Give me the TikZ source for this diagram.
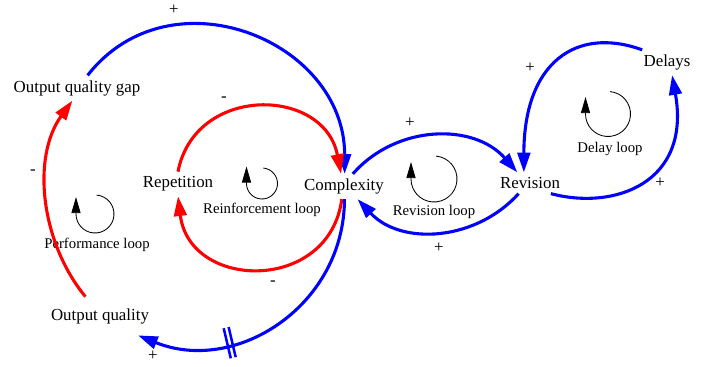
\documentclass[tikz,border=0pt]{standalone}
\usepackage{fontspec}
\setmainfont{Liberation Serif}
\usetikzlibrary{arrows.meta,decorations.markings}

% loop symbol: centre, radius
\newcommand{\loopmark}[2]{%
  \draw[loopline] (#1) ++(85:#2) arc[start angle=85, end angle=-180, radius=#2] -- ++(0,17);}

\begin{document}
\begin{tikzpicture}[x=0.025cm, y=0.025cm,
    var/.style={font=\fontsize{12}{14}\selectfont},
    loopname/.style={font=\fontsize{10.5}{12}\selectfont},
    sign/.style={font=\fontsize{12}{14}\selectfont, inner sep=1pt},
    link/.style={line width=2.2pt, -{Triangle[length=14pt,width=9pt]}},
    poslink/.style={link, draw=blue},
    neglink/.style={link, draw=red},
    loopline/.style={line width=0.6pt, -{Triangle[length=11.5pt,width=6.5pt]}},
    delaymark/.style={postaction={decorate}, decoration={markings, mark=at position #1 with
      {\draw[-, blue, line width=1.8pt] (-1.8pt,-11pt) -- (-1.8pt,11pt) (1.8pt,-11pt) -- (1.8pt,11pt);}}}]
  \useasboundingbox (0,0) rectangle (709,367);

  % variables
  \node[var] (gap) at (77,279) {Output quality gap};
  \node[var] (rep) at (178,183) {Repetition};
  \node[var] (cx)  at (344,180.5) {Complexity};
  \node[var] (rev) at (530,184) {Revision};
  \node[var] (del) at (667,304.5) {Delays};
  \node[var, outer sep=5pt] (oq) at (100,51) {Output quality};

  % loops
  \node[loopname] (perf)  at (97,122) {Performance loop};
  \node[loopname] (reinf) at (262,157.5) {Reinforcement loop};
  \node[loopname] (revl)  at (434,155.5) {Revision loop};
  \node[loopname] (dell)  at (610,218) {Delay loop};
  \loopmark{95,153}{19}
  \loopmark{262,183.5}{15.5}
  \loopmark{434,188}{23}
  \loopmark{608,253}{22.5}

  % links
  \draw[poslink] (gap.50) .. controls +(52:134) and +(90:134) .. (cx.87);
  \draw[neglink] (rep.north) .. controls +(79:89) and +(101:89) .. (cx.103);
  \draw[neglink] (cx.-100) .. controls +(-97.5:95) and +(-83:95) .. (rep.south);
  \draw[poslink, delaymark=0.68] (cx.-88) .. controls +(-90:106) and +(-22:106) .. (oq.-27);
  \draw[neglink] (oq.127) .. controls +(129.5:70) and +(-126:70) .. (gap.-110);
  \draw[poslink] (cx.55) .. controls +(48.7:66) and +(131.3:66) .. (rev.140);
  \draw[poslink] (rev.-137) .. controls +(-132:64) and +(-47:64) .. (cx.-43);
  \draw[poslink] (del.153) .. controls +(160:70) and +(90:110) .. (rev.120);
  \draw[poslink] (rev.-27) .. controls +(-15:65) and +(-80:110) .. (del.-68);

  % polarities
  \node[sign] (sgapcx) at (174,357) {+};
  \node[sign] (srepcx) at (224,268) {-};
  \node[sign] (soqgap) at (33,195) {-};
  \node[sign] (scxrep) at (273,84) {-};
  \node[sign] (scxoq)  at (153,11) {+};
  \node[sign] (scxrev) at (410,244) {+};
  \node[sign] (srevcx) at (439,119) {+};
  \node[sign] (sdelrev) at (530,299) {+};
  \node[sign] (srevdel) at (660,184) {+};
\end{tikzpicture}
\end{document}
